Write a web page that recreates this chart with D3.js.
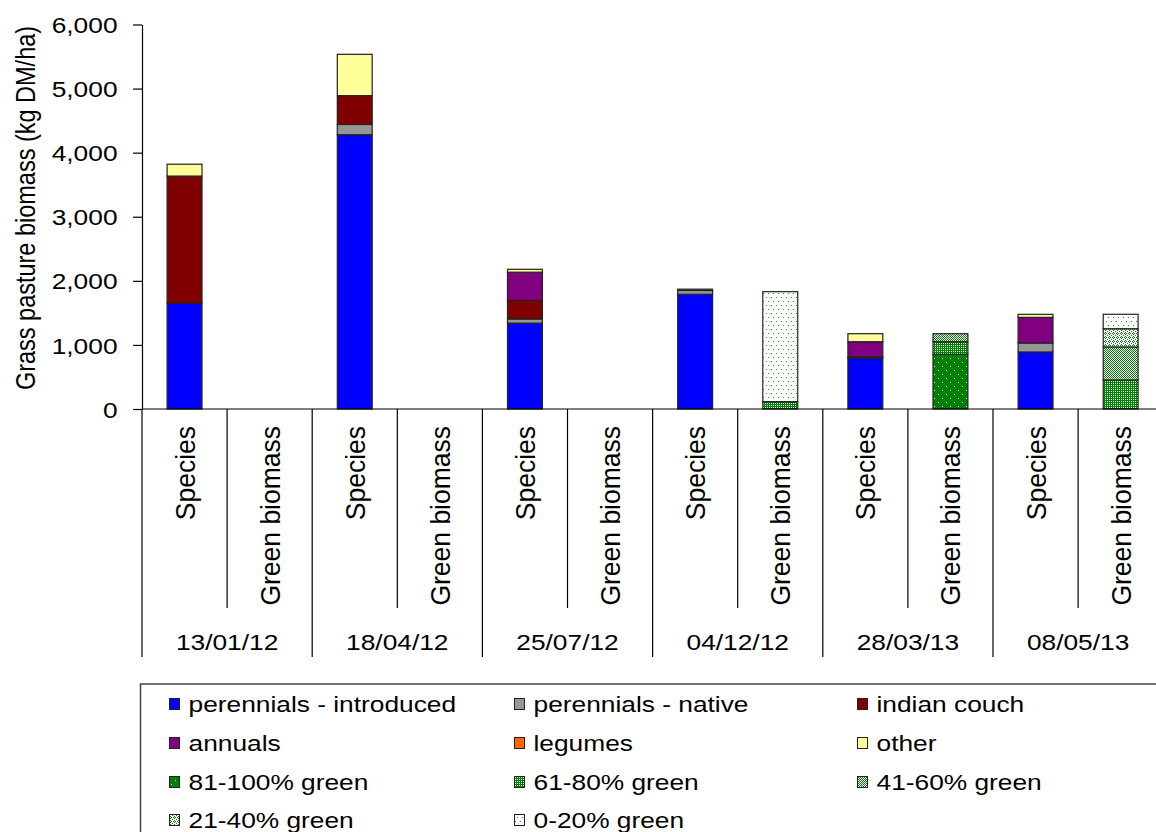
<!DOCTYPE html>
<html><head><meta charset="utf-8">
<script src="https://cdn.jsdelivr.net/npm/d3@7"></script>
<style>
body{margin:0;background:#fff}
svg{display:block;font-family:Arial,"Liberation Sans",sans-serif;fill:#000}
</style>
</head><body>
<svg id="c" width="1156" height="832"></svg>
<script>
// ---------- data ----------
const dates = ["13/01/12","18/04/12","25/07/12","04/12/12","28/03/13","08/05/13"];
const barTypes = ["Species","Green biomass"];
const yTicks = [0,1000,2000,3000,4000,5000,6000];

// Species bars (kg DM/ha)
const perennialsIntroduced = [1650, 4280, 1340, 1790, 790, 890];
const perennialsNative     = [0,    160,  65,   60,   0,   140];
const indianCouch          = [1985, 450,  290,  0,    25,  0];
const annuals              = [0,    0,    440,  0,    235, 400];
const legumes              = [0,    0,    0,    0,    0,   0];
const other                = [185,  645,  45,   20,   125, 47];

// Green biomass bars (kg DM/ha)
const green81to100 = [0, 0, 0, 0,    854, 0];
const green61to80  = [0, 0, 0, 115,  196, 453];
const green41to60  = [0, 0, 0, 0,    125, 515];
const green21to40  = [0, 0, 0, 0,    0,   285];
const green0to20   = [0, 0, 0, 1716, 0,   225];

const speciesSeries = [
  {key:"pi", label:"perennials - introduced", values:perennialsIntroduced, fill:"#0000ff"},
  {key:"pn", label:"perennials - native",     values:perennialsNative,     fill:"#969696"},
  {key:"ic", label:"indian couch",            values:indianCouch,          fill:"#800000"},
  {key:"an", label:"annuals",                 values:annuals,              fill:"#800080"},
  {key:"lg", label:"legumes",                 values:legumes,              fill:"#ff6600"},
  {key:"ot", label:"other",                   values:other,                fill:"#ffff99"}
];
const greenSeries = [
  {key:"g81", label:"81-100% green", values:green81to100, fill:"url(#p81)"},
  {key:"g61", label:"61-80% green",  values:green61to80,  fill:"url(#p61)"},
  {key:"g41", label:"41-60% green",  values:green41to60,  fill:"url(#p41)"},
  {key:"g21", label:"21-40% green",  values:green21to40,  fill:"url(#p21)"},
  {key:"g0",  label:"0-20% green",   values:green0to20,   fill:"url(#p0)"}
];

// ---------- setup ----------
const svg = d3.select("#c");
const SX = 1.17; // horizontal stretch of the reference text
const G = "#008000";

// patterns
const defs = svg.append("defs");
function pattern(id, w, h, bg, fg, pts){
  const p = defs.append("pattern").attr("id", id).attr("patternUnits","userSpaceOnUse")
    .attr("width", w).attr("height", h);
  p.append("rect").attr("width", w).attr("height", h).attr("fill", bg);
  pts.forEach(([a,b]) => p.append("rect").attr("x",a).attr("y",b).attr("width",1).attr("height",1).attr("fill",fg));
}
pattern("p81", 8, 8, G, "#ffffff", [[2,2],[6,6]]);
pattern("p61", 2, 2, G, "#ffffff", [[1,1]]);
pattern("p41", 2, 2, "#ffffff", G, [[0,0],[1,1]]);
pattern("p21", 4, 4, "#ffffff", G, [[1,0],[0,1],[2,1],[1,2],[3,3]]);
pattern("p0", 10, 8, "#ffffff", "#00b000", [[1,1],[6,1],[3,5],[8,5]]);

const y = d3.scaleLinear().domain([0,6000]).range([409,24.5]);
const slot = 85.1;
const x0 = d3.scaleBand().domain(dates).range([142, 142 + slot*12]);
const x1 = d3.scaleBand().domain(barTypes).range([0, x0.bandwidth()]);
const barW = x1.bandwidth()*0.41;

// ---------- bars ----------
function drawStack(series, type){
  const rows = dates.map((d,i) => {
    const r = {date:d};
    series.forEach(s => r[s.key] = s.values[i]);
    return r;
  });
  const stacked = d3.stack().keys(series.map(s => s.key))(rows);
  stacked.forEach((layer, li) => {
    svg.append("g").selectAll("rect")
      .data(layer.filter(d => d[1]-d[0] > 0))
      .join("rect")
      .attr("x", d => x0(d.data.date) + x1(type) + (x1.bandwidth()-barW)/2)
      .attr("y", d => y(d[1]))
      .attr("width", barW)
      .attr("height", d => y(d[0]) - y(d[1]))
      .attr("fill", series[li].fill)
      .attr("stroke", "#222")
      .attr("stroke-width", 1.2);
  });
}
drawStack(speciesSeries, "Species");
drawStack(greenSeries, "Green biomass");

// ---------- y axis ----------
const yAxis = svg.append("g").attr("transform","translate(142,0)")
  .call(d3.axisLeft(y).tickValues(yTicks).tickSize(9).tickSizeOuter(0).tickFormat(d3.format(",")));
yAxis.select(".domain").attr("stroke","#000").attr("stroke-width",1.2);
yAxis.selectAll(".tick line").attr("stroke","#000").attr("stroke-width",1.2);
yAxis.selectAll(".tick text")
  .attr("font-size", 22.5).attr("fill","#000")
  .attr("font-family","Arial, 'Liberation Sans', sans-serif")
  .attr("x", -24.5/SX).attr("dy","0.36em")
  .attr("transform", `scale(${SX},1)`);

// y title
svg.append("text")
  .attr("transform", `translate(35,208) scale(${SX},1) rotate(-90)`)
  .attr("text-anchor","middle")
  .attr("font-size", 23.5)
  .text("Grass pasture biomass (kg DM/ha)");

// ---------- x axis ----------
svg.append("line").attr("x1",142).attr("x2",1156).attr("y1",y(0)).attr("y2",y(0))
  .attr("stroke","#000").attr("stroke-width",1.2);

// group separators (long) and sub-category separators (short)
const groupEdges = dates.map(d => x0(d)).concat([x0(dates[dates.length-1]) + x0.bandwidth()]);
svg.append("g").selectAll("line").data(groupEdges).join("line")
  .attr("x1", d => d).attr("x2", d => d).attr("y1", y(0)).attr("y2", 657)
  .attr("stroke","#000").attr("stroke-width",1.2);
svg.append("g").selectAll("line").data(dates).join("line")
  .attr("x1", d => x0(d)+x1("Green biomass")).attr("x2", d => x0(d)+x1("Green biomass"))
  .attr("y1", y(0)).attr("y2", 608)
  .attr("stroke","#000").attr("stroke-width",1.2);

// rotated sub-category labels
const subCats = [];
dates.forEach(d => barTypes.forEach(t => subCats.push({date:d, type:t})));
svg.append("g").selectAll("text").data(subCats).join("text")
  .attr("transform", d => `translate(${x0(d.date)+x1(d.type)+x1.bandwidth()/2},426) scale(1.05,1) rotate(-90)`)
  .attr("text-anchor","end")
  .attr("dy","0.36em")
  .attr("font-size", 26.5)
  .text(d => d.type);

// date labels
svg.append("g").selectAll("text").data(dates).join("text")
  .attr("transform", d => `translate(${x0(d)+x0.bandwidth()/2},650) scale(${SX},1)`)
  .attr("text-anchor","middle")
  .attr("font-size", 22.5)
  .text(d => d);

// ---------- legend ----------
svg.append("rect").attr("x",140.5).attr("y",684).attr("width",1100).attr("height",200)
  .attr("fill","none").attr("stroke","#444").attr("stroke-width",1.5);

const legendItems = speciesSeries.concat(greenSeries);
const colX = [169, 514, 857];
const rowY = [712, 751, 790, 828];
const lg = svg.append("g").selectAll("g").data(legendItems).join("g")
  .attr("transform", (d,i) => `translate(${colX[i%3]},${rowY[Math.floor(i/3)]})`);
lg.append("rect").attr("x",0.5).attr("y",-13.5).attr("width",10).attr("height",11)
  .attr("fill", d => d.fill).attr("stroke","#222").attr("stroke-width",1);
lg.append("text")
  .attr("transform", `translate(19.5,0) scale(${SX},1)`)
  .attr("font-size", 22.5)
  .text(d => d.label);
</script>
</body></html>
